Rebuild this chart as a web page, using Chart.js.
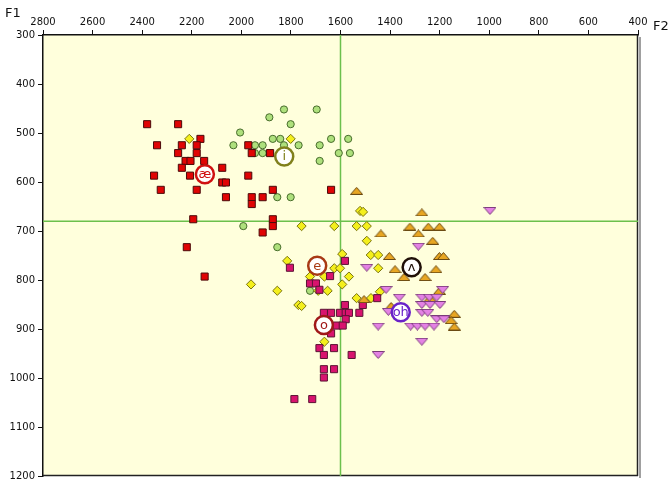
<!DOCTYPE html>
<html><head><meta charset="utf-8">
<script src="https://cdn.jsdelivr.net/npm/chart.js@4/dist/chart.umd.min.js"></script>
<style>html,body{margin:0;padding:0;background:#fff;overflow:hidden}</style>
</head><body>
<canvas id="c" width="672" height="480" style="display:block;width:672px;height:480px"></canvas>
<script>
// ---- tick labels ----
const f2Ticks = [2800,2600,2400,2200,2000,1800,1600,1400,1200,1000,800,600,400];
const f1Ticks = [300,400,500,600,700,800,900,1000,1100,1200];
const crossF2 = 1600, crossF1 = 680;

// ---- vowel tokens (F2, F1 in Hz) ----
const aeF2 = [2380,2255,2340,2240,2165,2180,2255,2180,2225,2205,2150,2240,2352,2207,2077,2077,2062,2325,2180,2062,1972,1958,1884,1972,1873,1958,1958,1914,1638,2194,1873,1873,1914,2220,2148];
const aeF1 = [482,482,525,525,512,525,541,541,557,557,557,571,587,587,571,601,601,616,616,631,525,541,541,587,616,631,645,631,616,676,676,690,703,733,793];

const iF2 = [1828,1696,1887,1801,2005,1873,1843,1638,1569,2032,1945,1914,1769,1684,1945,1914,1607,1562,1684,1855,1801,1992,1855,1723,1828];
const iF1 = [452,452,468,482,499,512,512,512,512,525,525,525,525,525,541,541,541,541,557,631,631,690,733,822,525];

const eF2 = [2210,1801,1757,1625,1535,1494,1521,1509,1494,1815,1593,1478,1448,1625,1602,1448,1723,1665,1566,1961,1593,1690,1652,1855,1770,1757,1477,1441,1535,1665];
const eF1 = [512,512,690,690,690,690,659,661,720,761,747,749,749,776,776,776,793,793,793,809,809,822,822,822,851,853,837,824,837,926];

const oF2 = [1582,1804,1642,1723,1699,1685,1667,1638,1602,1579,1566,1582,1510,1524,1579,1615,1591,1638,1685,1626,1667,1555,1452,1667,1626,1667,1786,1714];
const oF1 = [761,775,792,807,807,820,867,867,867,867,867,851,851,867,880,893,893,909,939,939,953,953,837,982,982,999,1043,1043];

const uhF2 = [1535,1272,1320,1246,1201,1286,1437,1228,1403,1201,1185,1380,1215,1344,1259,1201,1505,1396,1141,1154,1141,1239];
const uhF1 = [618,662,691,691,691,705,705,720,751,751,751,778,778,794,794,822,839,853,869,882,895,837];

const ohF2 = [997,1286,1494,1416,1188,1363,1272,1242,1212,1272,1239,1199,1272,1248,1407,1212,1183,1317,1290,1259,1223,1448,1272,1448];
const ohF1 = [659,732,775,820,820,836,836,836,836,851,851,851,867,867,865,880,880,895,895,895,895,895,926,953];

// ---- vowel means ----
const centroidLabels = ['æ','i','e','o','ʌ','oh'];
const centroidF2 = [2147,1827,1694,1667,1313,1357];
const centroidF1 = [584,548,771,892,774,866];
const centroidColors = ['#d01010','#80801c','#a83a14','#a01818','#201008','#6a22c8'];

function pts(xs, ys){ return xs.map((v,i)=>({x:v, y:ys[i]})); }

function tri(fill, stroke, up){
  const c = document.createElement('canvas');
  c.width = 13; c.height = 8;
  const g = c.getContext('2d');
  g.beginPath();
  if (up){ g.moveTo(6.5,0.5); g.lineTo(12.5,7.5); g.lineTo(0.5,7.5); }
  else   { g.moveTo(0.5,0.5); g.lineTo(12.5,0.5); g.lineTo(6.5,7.5); }
  g.closePath();
  g.fillStyle = fill; g.fill();
  g.strokeStyle = stroke; g.lineWidth = 1; g.stroke();
  return c;
}
const triUp = tri('#e8a622','#6a4a12', true);
const triDown = tri('#e482e4','#7a3a7a', false);

const zeroPad = () => ({left:0, top:0, right:0, bottom:0});

const plotPlugin = {
  id: 'plot',
  beforeDraw(chart){
    const {ctx, chartArea:a} = chart;
    ctx.save();
    ctx.fillStyle = '#ffffdc';
    ctx.fillRect(a.left, a.top, a.right-a.left, a.bottom-a.top);
    ctx.fillStyle = '#a0a0a0';
    ctx.fillRect(a.right+1, a.top+2, 2, a.bottom-a.top);
    ctx.restore();
  },
  beforeDatasetsDraw(chart){
    const {ctx, chartArea:a, scales:{x,y}} = chart;
    ctx.save();
    ctx.strokeStyle = '#222';
    ctx.lineWidth = 1.5;
    ctx.beginPath();
    ctx.moveTo(a.right-0.5, a.top); ctx.lineTo(a.right-0.5, a.bottom);
    ctx.moveTo(a.left, a.bottom-0.5); ctx.lineTo(a.right, a.bottom-0.5);
    ctx.stroke();
    ctx.strokeStyle = '#6cc04c';
    ctx.lineWidth = 1.5;
    const px = x.getPixelForValue(crossF2);
    const py = y.getPixelForValue(crossF1);
    ctx.beginPath();
    ctx.moveTo(px, a.top); ctx.lineTo(px, a.bottom);
    ctx.moveTo(a.left, py); ctx.lineTo(a.right, py);
    ctx.stroke();
    ctx.restore();
  },
  afterDatasetsDraw(chart){
    const {ctx} = chart;
    const meta = chart.getDatasetMeta(0);
    ctx.save();
    ctx.textAlign = 'center';
    ctx.textBaseline = 'middle';
    meta.data.forEach((el,i)=>{
      const lab = centroidLabels[i];
      ctx.font = '13px "DejaVu Sans", sans-serif';
      ctx.fillStyle = centroidColors[i];
      ctx.fillText(lab, el.x, el.y+0.5);
    });
    ctx.restore();
  },
  afterDraw(chart){
    const {ctx} = chart;
    ctx.save();
    ctx.fillStyle = '#111';
    ctx.font = '13px "DejaVu Sans", sans-serif';
    ctx.textBaseline = 'middle';
    ctx.textAlign = 'left';
    ctx.fillText('F1', 5, 14);
    ctx.fillText('F2', 653, 27);
    ctx.restore();
  }
};

const common = { showLine:false, pointBorderWidth:1, pointHoverRadius:0 };

new Chart(document.getElementById('c'), {
  type: 'scatter',
  data: { datasets: [
    { ...common, label:'means', data: pts(centroidF2, centroidF1), pointStyle:'circle', pointRadius:9,
      pointBackgroundColor:'#ffffff', pointBorderColor:centroidColors, pointBorderWidth:2.5, order:0 },
    { ...common, label:'oh', data: pts(ohF2, ohF1), pointStyle:triDown, order:1 },
    { ...common, label:'uh', data: pts(uhF2, uhF1), pointStyle:triUp, order:2 },
    { ...common, label:'o', data: pts(oF2, oF1), pointStyle:'rect', pointRadius:5,
      pointBackgroundColor:'#d8136e', pointBorderColor:'#5a1434', order:3 },
    { ...common, label:'e', data: pts(eF2, eF1), pointStyle:'rectRot', pointRadius:4.6,
      pointBackgroundColor:'#f4ef1c', pointBorderColor:'#7a7410', order:4 },
    { ...common, label:'ae', data: pts(aeF2, aeF1), pointStyle:'rect', pointRadius:5,
      pointBackgroundColor:'#e00404', pointBorderColor:'#4a0a0a', order:5 },
    { ...common, label:'i', data: pts(iF2, iF1), pointStyle:'circle', pointRadius:3.6,
      pointBackgroundColor:'#aee07c', pointBorderColor:'#486c2c', order:6 }
  ]},
  options: {
    responsive:false, animation:false, devicePixelRatio:1,
    layout:{ autoPadding:false, padding:{ left:0, right:34, top:0, bottom:4 } },
    plugins:{ legend:{display:false}, tooltip:{enabled:false} },
    events: [],
    scales:{
      x:{
        type:'linear', position:'top', reverse:true, min:400, max:2800,
        afterBuildTicks(s){ s.ticks = f2Ticks.map(v=>({value:v})); },
        afterFit(s){ s.height = 35; s.getPadding = zeroPad; },
        ticks:{ autoSkip:false, maxRotation:0, padding:2, color:'#111',
          font:{ family:'"DejaVu Sans", sans-serif', size:10 }, callback:v=>String(v) },
        grid:{ drawOnChartArea:false, drawTicks:true, tickLength:5, color:'#111' },
        border:{ display:true, color:'#111', width:1.5 }
      },
      y:{
        type:'linear', reverse:true, min:300, max:1200,
        afterBuildTicks(s){ s.ticks = f1Ticks.map(v=>({value:v})); },
        afterFit(s){ s.width = 43; s.getPadding = zeroPad; },
        ticks:{ autoSkip:false, padding:3, color:'#111',
          font:{ family:'"DejaVu Sans", sans-serif', size:10 }, callback:v=>String(v) },
        grid:{ drawOnChartArea:false, drawTicks:true, tickLength:5, color:'#111' },
        border:{ display:true, color:'#111', width:1.5 }
      }
    }
  },
  plugins:[plotPlugin]
});
</script>
</body></html>
